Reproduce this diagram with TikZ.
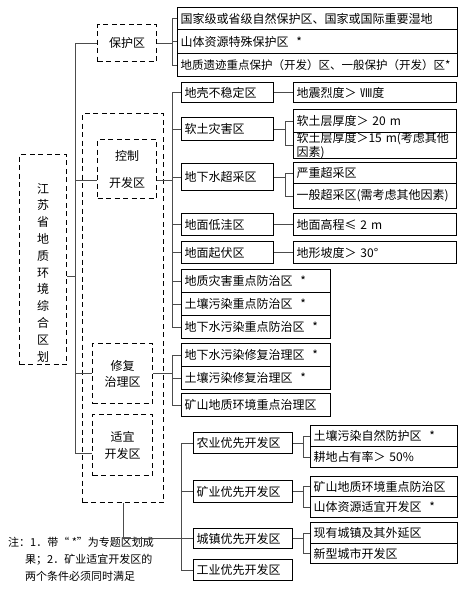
\documentclass[tikz,border=0pt]{standalone}
\usepackage{fontspec}
\setmainfont{Noto Sans CJK SC}
% bracket from a parent point over a junction column to each child
\newcommand\fork[3]{
	\foreach \c in {#3} {
		\draw[link] (#1) -- (#1 -| #2) |- (\c);
	}
}
\begin{document}
\begin{tikzpicture}[x=1pt, y=-1pt,
	zone/.style={draw, line width=1pt, anchor=north west, inner xsep=3pt, inner ysep=0pt, align=left, font=\fontsize{12}{13}\selectfont},
	top/.style={zone, text width=274pt},
	ca/.style={zone, text width=86pt},
	cb/.style={zone, text width=157pt},
	cl/.style={zone, text width=143pt},
	pa/.style={zone, text width=93pt},
	pb/.style={zone, text width=141pt},
	dzone/.style={draw, dash pattern=on 5pt off 3.5pt, line width=1.2pt, anchor=north west, inner sep=0pt, align=center, font=\fontsize{12}{16}\selectfont},
	link/.style={draw=black!70, line width=0.9pt}]
	\useasboundingbox (0,0) rectangle (466,592);

	% dashed zones
	\node[dzone, minimum width=47pt, minimum height=210pt, font=\fontsize{12}{16.8}\selectfont] (js) at (19,154) {\mbox{}\\[19pt]江\\苏\\省\\地\\质\\环\\境\\综\\合\\区\\划};
	\node[dzone, minimum width=59pt, minimum height=37pt] (bh) at (97,24) {保护区};
	\node[dzone, minimum width=81pt, minimum height=389pt] (dev) at (82,113) {};
	\node[dzone, minimum width=59pt, minimum height=59pt, font=\fontsize{12}{27}\selectfont] (kz) at (97,139) {控制\\开发区};
	\node[dzone, minimum width=60pt, minimum height=60pt] (xf) at (92,343) {修复\\治理区};
	\node[dzone, minimum width=60pt, minimum height=61pt, font=\fontsize{12}{17}\selectfont] (sy) at (92,414) {适宜\\开发区};

	% protection
	\node[top, minimum height=22pt] (n1) at (177,7) {国家级或省级自然保护区、国家或国际重要湿地};
	\node[top, minimum height=24pt] (n2) at (177,29) {山体资源特殊保护区 \ *};
	\node[top, minimum height=23pt, font=\fontsize{11.5}{13}\selectfont] (n3) at (177,53) {地质遗迹重点保护（开发）区、一般保护（开发）区*};

	% control
	\node[ca, minimum height=20pt] (dk) at (181,82) {地壳不稳定区};
	\node[ca, minimum height=23pt] (rt) at (181,117) {软土灾害区};
	\node[ca, minimum height=27pt] (cc) at (181,163) {地下水超采区};
	\node[ca, minimum height=22pt] (dw) at (181,213) {地面低洼区};
	\node[ca, minimum height=22pt] (qf) at (181,241) {地面起伏区};
	\node[cl, minimum height=23pt] (zh) at (181,269) {地质灾害重点防治区 \ *};
	\node[cl, minimum height=23pt] (tr) at (181,292) {土壤污染重点防治区 \ *};
	\node[cl, minimum height=23pt] (dx) at (181,315) {地下水污染重点防治区 \ *};

	\node[cb, minimum height=20pt] (dz) at (293,82) {地震烈度＞ Ⅷ度};
	\node[cb, minimum height=23pt] (rt1) at (293,109) {软土层厚度＞ 20 m};
	\node[cb, minimum height=24pt, font=\fontsize{12}{11}\selectfont] (rt2) at (293,132) {软土层厚度＞15 m(考虑其他\\因素)};
	\node[cb, minimum height=21pt] (cc1) at (293,162) {严重超采区};
	\node[cb, minimum height=25pt] (cc2) at (293,183) {一般超采区(需考虑其他因素)};
	\node[cb, minimum height=22pt] (gc) at (293,213) {地面高程≤ 2 m};
	\node[cb, minimum height=22pt] (pd) at (293,241) {地形坡度＞ 30°};

	% restoration
	\node[cl, minimum height=23pt] (xf1) at (181,343) {地下水污染修复治理区 \ *};
	\node[cl, minimum height=23pt] (xf2) at (181,366) {土壤污染修复治理区 \ *};
	\node[cl, minimum height=23pt] (xf3) at (181,393) {矿山地质环境重点治理区};

	% suitable development
	\node[pa, minimum height=21pt] (ny) at (193,432) {农业优先开发区};
	\node[pa, minimum height=22pt] (ky) at (193,480) {矿业优先开发区};
	\node[pa, minimum height=20pt] (cz) at (193,528) {城镇优先开发区};
	\node[pa, minimum height=21pt] (gy) at (193,559) {工业优先开发区};
	\node[pb, minimum height=21pt] (ny1) at (310,425) {土壤污染自然防护区 \ *};
	\node[pb, minimum height=21pt] (ny2) at (310,446) {耕地占有率＞ 50\%};
	\node[pb, minimum height=20pt] (ky1) at (310,476) {矿山地质环境重点防治区};
	\node[pb, minimum height=21pt] (ky2) at (310,496) {山体资源适宜开发区 \ *};
	\node[pb, minimum height=21pt] (cz1) at (310,522) {现有城镇及其外延区};
	\node[pb, minimum height=20pt] (cz2) at (310,543) {新型城市开发区};

	% note
	\node[anchor=north west, align=left, inner sep=0pt, font=\fontsize{11}{17}\selectfont] (note) at (8,537) {注：1．带“ *”为专题区划成\\\hspace*{17pt}果；2．矿业适宜开发区的\\\hspace*{17pt}两个条件必须同时满足};

	% junction columns
	\coordinate (jt) at (75,0);
	\coordinate (jm) at (172,0);
	\coordinate (ja) at (285,0);
	\coordinate (jb) at (303,0);
	\coordinate (jc) at (181,0);
	\coordinate (jsr) at ([yshift=-17pt]js.east);
	\coordinate (kzl) at ([yshift=-11pt]kz.west);
	\coordinate (kzr) at ([yshift=-11pt]kz.east);
	\coordinate (syl) at ([yshift=-8pt]sy.west);

	% links
	\fork{jsr}{jt}{bh.west,kzl,xf.west,syl}
	\fork{bh.east}{jm}{n1.west,n2.west,n3.west}
	\fork{kzr}{jm}{dk.west,rt.west,cc.west,dw.west,qf.west,zh.west,tr.west,dx.west}
	\fork{xf.east}{jm}{xf1.west,xf2.west,xf3.west}
	\fork{rt.east}{ja}{rt1.west,rt2.west}
	\fork{cc.east}{ja}{cc1.west,cc2.west}
	\draw[link] (dk.east) -- (dz.west);
	\draw[link] (dw.east) -- (gc.west);
	\draw[link] (qf.east) -- (pd.west);
	\fork{ny.east}{jb}{ny1.west,ny2.west}
	\fork{ky.east}{jb}{ky1.west,ky2.west}
	\fork{cz.east}{jb}{cz1.west,cz2.west}
	\draw[link] (dev.south) |- (cz.west);
	\draw[link] (ny.west -| jc) -- (gy.west -| jc);
	\foreach \c in {ny,ky,cz,gy} {
		\draw[link] (\c.west -| jc) -- (\c.west);
	}
\end{tikzpicture}
\end{document}
